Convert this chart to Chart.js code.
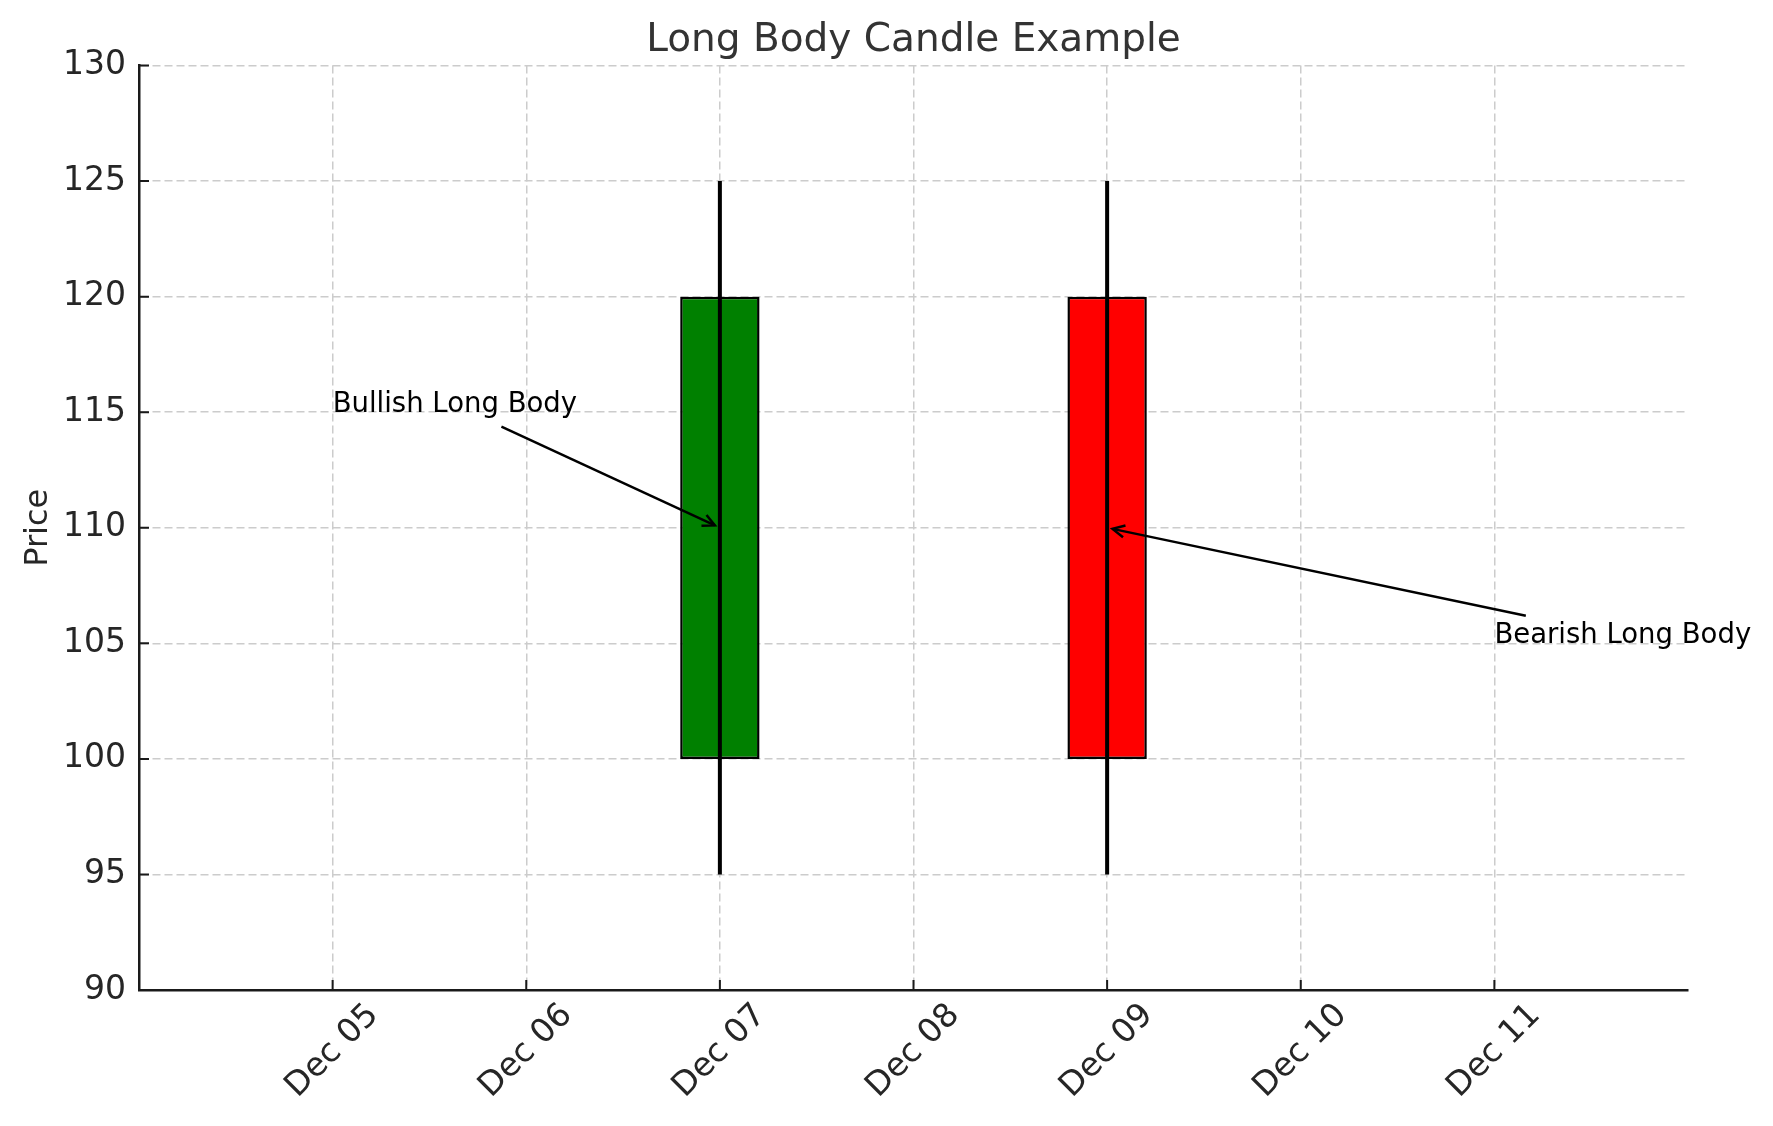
<!DOCTYPE html>
<html>
<head>
<meta charset="utf-8">
<script src="https://cdn.jsdelivr.net/npm/chart.js@4/dist/chart.umd.min.js"></script>
<style>
  html, body { margin: 0; padding: 0; background: #ffffff; }
  #wrap { width: 1773px; height: 1126px; }
</style>
</head>
<body>
<div id="wrap"><canvas id="c" width="1773" height="1126"></canvas></div>
<script>
// ---------------- data ----------------
const categories = ['Dec 04', 'Dec 05', 'Dec 06', 'Dec 07', 'Dec 08', 'Dec 09', 'Dec 10', 'Dec 11', 'Dec 12'];
const xTickLabels = ['', 'Dec 05', 'Dec 06', 'Dec 07', 'Dec 08', 'Dec 09', 'Dec 10', 'Dec 11', ''];
const candleDates = ['Dec 07', 'Dec 09'];
const openValues = [100, 120];
const highValues = [125, 125];
const lowValues = [95, 95];
const closeValues = [120, 100];
const yTickValues = [90, 95, 100, 105, 110, 115, 120, 125, 130];
const annotationTexts = ['Bullish Long Body', 'Bearish Long Body'];
const annotationTextX = ['Dec 05', 'Dec 11'];
const annotationTextY = [115, 105];
const annotationPointX = ['Dec 07', 'Dec 09'];
const annotationPointY = [110, 110];
const titleText = 'Long Body Candle Example';
const yAxisTitle = 'Price';

// ---------------- build datasets ----------------
const bodyData = categories.map(c => {
  const i = candleDates.indexOf(c);
  return i < 0 ? null : [Math.min(openValues[i], closeValues[i]), Math.max(openValues[i], closeValues[i])];
});
const bodyColors = categories.map(c => {
  const i = candleDates.indexOf(c);
  if (i < 0) return 'rgba(0,0,0,0)';
  return closeValues[i] >= openValues[i] ? '#008000' : '#ff0000';
});
const wickData = categories.map(c => {
  const i = candleDates.indexOf(c);
  return i < 0 ? null : [lowValues[i], highValues[i]];
});

const FONT = '"DejaVu Sans", "Liberation Sans", sans-serif';
const GRID_COLOR = '#cccccc';
const AXIS_COLOR = '#1a1a1a';
const TEXT_COLOR = '#262626';

// title centred over the plot area (as matplotlib does)
const plotTitle = {
  id: 'plotTitle',
  afterDraw(chart) {
    const ctx = chart.ctx, area = chart.chartArea;
    ctx.save();
    ctx.font = '39px ' + FONT;
    ctx.fillStyle = '#333333';
    ctx.textAlign = 'center';
    ctx.textBaseline = 'alphabetic';
    ctx.fillText(titleText, (area.left + area.right) / 2, 51);
    ctx.restore();
  }
};

// inward tick marks (matplotlib direction="in")
const inwardTicks = {
  id: 'inwardTicks',
  afterDraw(chart) {
    const ctx = chart.ctx;
    const xs = chart.scales.x, ys = chart.scales.y;
    const area = chart.chartArea;
    ctx.save();
    ctx.strokeStyle = AXIS_COLOR;
    ctx.lineWidth = 2;
    ctx.beginPath();
    yTickValues.forEach(v => {
      if (v === ys.min) return;
      const y = ys.getPixelForValue(v);
      ctx.moveTo(area.left, y);
      ctx.lineTo(area.left + 10, y);
    });
    xTickLabels.forEach((lab, i) => {
      if (!lab) return;
      const x = xs.getPixelForValue(i);
      ctx.moveTo(x, area.bottom);
      ctx.lineTo(x, area.bottom - 10);
    });
    ctx.stroke();
    ctx.restore();
  }
};

// annotations with arrows (matplotlib annotate style "->")
const annotations = {
  id: 'annotations',
  afterDraw(chart) {
    const ctx = chart.ctx;
    const xs = chart.scales.x, ys = chart.scales.y;
    const fs = 27.5;
    ctx.save();
    ctx.font = fs + 'px ' + FONT;
    ctx.textAlign = 'left';
    ctx.textBaseline = 'alphabetic';
    ctx.fillStyle = '#000000';
    annotationTexts.forEach((text, i) => {
      const tx = xs.getPixelForValue(categories.indexOf(annotationTextX[i]));
      const ty = ys.getPixelForValue(annotationTextY[i]);
      const px = xs.getPixelForValue(categories.indexOf(annotationPointX[i]));
      const py = ys.getPixelForValue(annotationPointY[i]);
      ctx.fillText(text, tx, ty);
      const w = ctx.measureText(text).width;
      const top = ty - 0.76 * fs, bottom = ty + 0.24 * fs;
      const pad = 5.5, shrinkA = 5.5, shrinkB = 5.5;
      const cx = tx + w / 2, cy = (top + bottom) / 2;
      let dx = px - cx, dy = py - cy;
      const len = Math.hypot(dx, dy);
      dx /= len; dy /= len;
      const tX = dx > 0 ? (tx + w + pad - cx) / dx : (tx - pad - cx) / dx;
      const tY = dy > 0 ? (bottom + pad - cy) / dy : (top - pad - cy) / dy;
      const t0 = Math.min(tX, tY) + shrinkA;
      const sx = cx + dx * t0, sy = cy + dy * t0;
      const ex = px - dx * shrinkB, ey = py - dy * shrinkB;
      ctx.strokeStyle = '#000000';
      ctx.lineWidth = 2.5;
      ctx.lineCap = 'butt';
      ctx.beginPath();
      ctx.moveTo(sx, sy);
      ctx.lineTo(ex, ey);
      ctx.stroke();
      // open head
      const hl = 12, hw = 6;
      const bx = ex - dx * hl, by = ey - dy * hl;
      const nx = -dy, ny = dx;
      ctx.beginPath();
      ctx.moveTo(bx + nx * hw, by + ny * hw);
      ctx.lineTo(ex, ey);
      ctx.lineTo(bx - nx * hw, by - ny * hw);
      ctx.stroke();
    });
    ctx.restore();
  }
};

new Chart(document.getElementById('c'), {
  type: 'bar',
  data: {
    labels: categories,
    datasets: [
      {
        label: 'Wick',
        data: wickData,
        backgroundColor: '#000000',
        borderWidth: 0,
        grouped: false,
        maxBarThickness: 4,
        order: 0
      },
      {
        label: 'Body',
        data: bodyData,
        backgroundColor: bodyColors,
        borderColor: '#000000',
        borderWidth: 2.5,
        borderSkipped: false,
        grouped: false,
        categoryPercentage: 1.0,
        barPercentage: 0.41,
        order: 1
      }
    ]
  },
  options: {
    responsive: false,
    devicePixelRatio: 1,
    animation: false,
    events: [],
    layout: { padding: { left: 0, right: 85, top: 65.5, bottom: 0 } },
    plugins: {
      legend: { display: false },
      tooltip: { enabled: false },
      title: { display: false }
    },
    scales: {
      x: {
        type: 'category',
        offset: false,
        grid: {
          offset: false,
          drawTicks: false,
          lineWidth: 1.5,
          color: (ctx) => (ctx.index === 0 || ctx.index === categories.length - 1) ? 'rgba(0,0,0,0)' : GRID_COLOR
        },
        border: { display: true, color: AXIS_COLOR, width: 2.5, dash: [8, 4] },
        ticks: {
          autoSkip: false,
          minRotation: 45,
          maxRotation: 45,
          padding: 6,
          labelOffset: 41,
          color: TEXT_COLOR,
          font: { family: FONT, size: 33 },
          callback: (val, i) => xTickLabels[i]
        },
        afterFit: (scale) => { scale.height = 136; }
      },
      y: {
        type: 'linear',
        min: 90,
        max: 130,
        afterBuildTicks: (scale) => { scale.ticks = yTickValues.map(v => ({ value: v })); },
        grid: { drawTicks: false, lineWidth: 1.5, color: GRID_COLOR },
        border: { display: true, color: AXIS_COLOR, width: 2.5, dash: [8, 4] },
        ticks: {
          padding: 13,
          color: TEXT_COLOR,
          font: { family: FONT, size: 33 },
          callback: (v) => String(v)
        },
        title: {
          display: true,
          text: yAxisTitle,
          color: TEXT_COLOR,
          font: { family: FONT, size: 32 },
          padding: { top: 19, bottom: 0 }
        },
        afterFit: (scale) => { scale.width = 139; }
      }
    }
  },
  plugins: [inwardTicks, annotations, plotTitle]
});
</script>
</body>
</html>
